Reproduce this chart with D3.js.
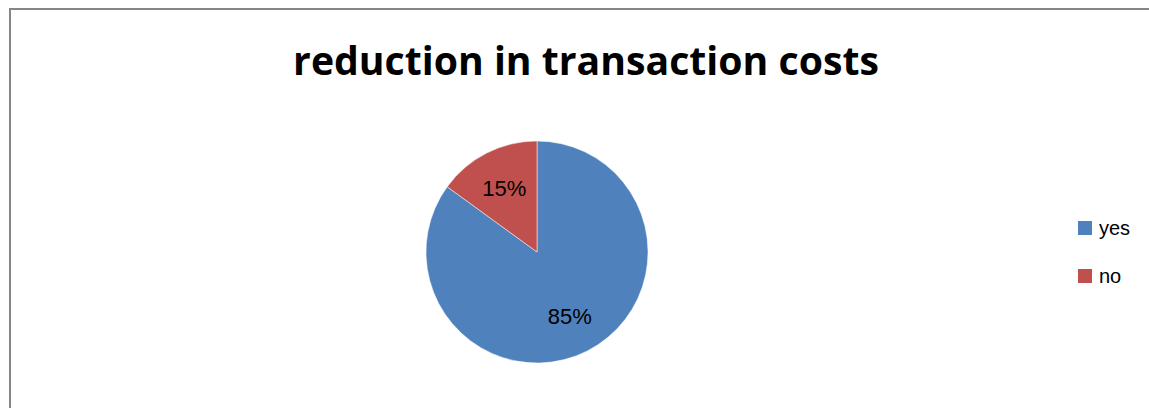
<!DOCTYPE html>
<html>
<head>
<meta charset="utf-8">
<script src="https://cdn.jsdelivr.net/npm/d3@7"></script>
<style>
  body { margin: 0; background: #fff; }
  svg { display: block; }
</style>
</head>
<body>
<div id="chart"></div>
<script>
const title = "reduction in transaction costs"
const categories = ["yes", "no"]
const values = [85, 15]
const colors = ["#4F81BD", "#C0504D"]

const width = 1149
const height = 408

const svg = d3.select("#chart")
    .append("svg")
    .attr("width", width)
    .attr("height", height)

// chart area border (runs off the right and bottom edges)
svg.append("rect")
    .attr("x", 10)
    .attr("y", 9)
    .attr("width", 1300)
    .attr("height", 600)
    .attr("fill", "#fff")
    .attr("stroke", "#868686")
    .attr("stroke-width", 2)

// title, sized to the reference width
const titleText = svg.append("text")
    .attr("x", 586)
    .attr("y", 75)
    .attr("text-anchor", "middle")
    .attr("font-family", "Open Sans, sans-serif")
    .attr("font-weight", "bold")
    .attr("font-size", 40)
    .attr("fill", "#000")
    .text(title)
const tw = titleText.node().getComputedTextLength()
titleText.attr("font-size", 40 * 586 / tw)

const cx = 537, cy = 252, radius = 111

const pie = d3.pie().sort(null).value((d) => d.value)
const arcs = pie(categories.map((c, i) => ({name: c, value: values[i], color: colors[i]})))
const total = d3.sum(values)

const arc = d3.arc().innerRadius(0).outerRadius(radius)
const labelArc = d3.arc().innerRadius(72).outerRadius(72)

const g = svg.append("g").attr("transform", `translate(${cx},${cy})`)

g.selectAll("path")
    .data(arcs)
    .join("path")
    .attr("d", arc)
    .attr("fill", (d) => d.data.color)
    .attr("stroke", "#fff")
    .attr("stroke-width", 0.5)

g.selectAll("text")
    .data(arcs)
    .join("text")
    .attr("transform", (d) => `translate(${labelArc.centroid(d)})`)
    .attr("text-anchor", "middle")
    .attr("dy", "0.35em")
    .attr("font-family", "Liberation Sans, Arial, sans-serif")
    .attr("font-size", 22)
    .attr("fill", "#000")
    .text((d) => Math.round(d.data.value / total * 100) + "%")

// legend
const legend = svg.append("g").attr("transform", "translate(1078,221)")
const item = legend.selectAll("g")
    .data(categories)
    .join("g")
    .attr("transform", (d, i) => `translate(0,${i * 48})`)
item.append("rect")
    .attr("width", 14)
    .attr("height", 14)
    .attr("fill", (d, i) => colors[i])
item.append("text")
    .attr("x", 21)
    .attr("y", 7)
    .attr("dy", "0.35em")
    .attr("font-family", "Liberation Sans, Arial, sans-serif")
    .attr("font-size", 20)
    .attr("fill", "#000")
    .text((d) => d)
</script>
</body>
</html>
